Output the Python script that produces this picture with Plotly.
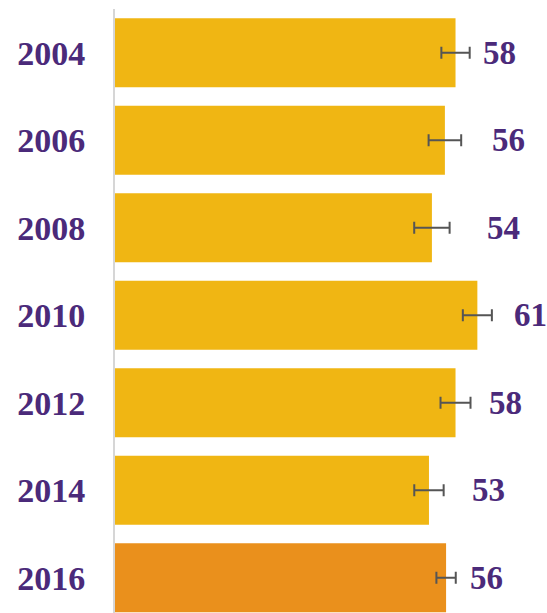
import plotly.graph_objects as go

years = ["2004", "2006", "2008", "2010", "2012", "2014", "2016"]
values = [57.7, 55.9, 53.7, 61.4, 57.7, 53.2, 56.1]
errors = [2.4, 2.76, 3.0, 2.46, 2.54, 2.49, 1.64]
colors = ["#F0B613"] * 6 + ["#EA901C"]
# pixel gap between end of error bar and value label (style)
label_gaps = [11, 29, 35, 20, 16, 26, 12]

purple = "#4B2A7A"
font_family = "Liberation Serif"

fig = go.Figure()
fig.add_trace(go.Bar(
    x=values, y=list(range(len(years))), orientation="h",
    marker=dict(color=colors, line=dict(width=0)),
    error_x=dict(type="data", array=errors, visible=True,
                 color="#555555", thickness=2, width=6),
    hoverinfo="skip",
))

for i, (v, e, g) in enumerate(zip(values, errors, label_gaps)):
    fig.add_annotation(x=v + e, y=i, text=str(round(v)), showarrow=False,
                       xanchor="left", yanchor="middle", xshift=g,
                       font=dict(family=font_family, size=33, color=purple,
                                 weight="bold"))

fig.update_layout(
    width=547, height=613,
    margin=dict(l=115, r=0, t=9, b=0),
    plot_bgcolor="white", paper_bgcolor="white",
    bargap=0.21,
    showlegend=False,
    xaxis=dict(range=[0, 73.2], showgrid=False, zeroline=False,
               showticklabels=False, showline=False, automargin=False),
    yaxis=dict(range=[6.403, -0.5], showgrid=False, zeroline=False,
               tickmode="array", tickvals=list(range(len(years))),
               ticktext=years, automargin=False,
               showline=True, linecolor="#D6D6D6", linewidth=2,
               ticks="outside", tickcolor="white", ticklen=21,
               tickfont=dict(family=font_family, size=34, color=purple,
                             weight="bold")),
)

fig.write_html(
    "out.html",
    config={"displayModeBar": False},
    post_script="document.body.style.margin='0';"
                "document.body.style.overflow='hidden';",
)
